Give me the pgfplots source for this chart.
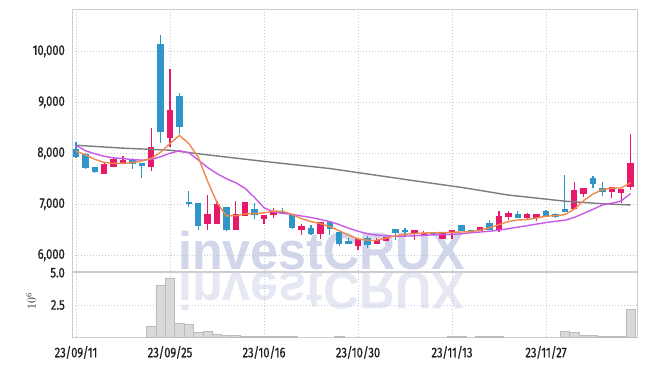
\documentclass[border=0pt]{standalone}
\usepackage{fontspec}
\setmainfont{Fira Sans}[FakeStretch=0.8, FakeBold=0.8]
\newfontfamily\wmfont{Liberation Sans}[FakeStretch=0.95]
\usepackage{pgfplots}
\pgfplotsset{compat=1.18}
\usepackage{pgfplotstable}
\definecolor{cred}{HTML}{E6196A}
\definecolor{cblue}{HTML}{3096C8}
\definecolor{corange}{HTML}{EE8A4E}
\definecolor{cpurple}{HTML}{C85AE8}
\definecolor{cgray}{HTML}{7C7C7C}
\definecolor{volfill}{HTML}{D9D9D9}
\definecolor{voledge}{HTML}{BBBBBB}
\definecolor{gridc}{HTML}{C6CADC}
\definecolor{framec}{HTML}{CCCCD2}
\definecolor{textc}{HTML}{202020}
\definecolor{wmc}{HTML}{D1D6EA}
\definecolor{wmc2}{HTML}{E5E8F3}

\pgfplotstableread{
i top bot h l
3 7784 7588 7830 7588
4 7882 7725 7930 7725
5 7863 7804 7940 7780
8 8118 7725 8490 7647
10 8843 8294 9647 8118
14 6804 6620 7176 6500
15 7000 6620 7065 6620
17 6804 6504 7065 6504
18 7039 6771 7045 6771
20 6784 6706 6784 6608
21 6850 6790 6922 6725
24 6569 6504 6621 6405
26 6653 6412 6660 6314
30 6307 6176 6307 6098
32 6294 6229 6340 6229
33 6359 6275 6359 6275
36 6490 6444 6500 6294
37 6425 6386 6477 6380
39 6425 6327 6430 6310
40 6490 6438 6500 6327
43 6543 6477 6550 6470
45 6765 6504 6863 6460
46 6817 6751 6869 6700
48 6804 6732 6830 6700
49 6804 6732 6810 6667
53 7275 6902 7437 6902
54 7307 7196 7320 7150
57 7327 7242 7340 7120
58 7294 7229 7300 7033
59 7797 7340 8386 7280
}\upcandles

\pgfplotstableread{
i top bot h l
0 8078 7922 8216 7900
1 7980 7710 8000 7700
2 7725 7630 7740 7610
6 7882 7784 7900 7700
7 7804 7745 7804 7510
9 10137 8412 10314 8196
11 9118 8510 9176 8373
12 7039 7000 7255 6941
13 7020 6569 7030 6490
16 6935 6490 6950 6470
19 6896 6784 7025 6706
22 6850 6804 6928 6800
23 6804 6543 6804 6510
25 6523 6412 6588 6400
27 6653 6523 6660 6392
28 6444 6229 6444 6176
29 6275 6229 6340 6220
31 6327 6209 6372 6150
34 6504 6438 6504 6294
35 6482 6462 6543 6373
38 6457 6392 6460 6380
41 6588 6477 6600 6470
42 6490 6457 6500 6440
44 6621 6504 6686 6500
47 6804 6739 6869 6739
50 6863 6765 6880 6765
51 6804 6751 6830 6720
52 6902 6850 7582 6840
55 7516 7392 7560 7320
56 7307 7242 7437 7160
}\downcandles

\pgfplotstableread{
i v
8 0.85
9 4.0
10 4.6
11 1.12
12 1.03
13 0.36
14 0.43
15 0.26
16 0.18
17 0.13
18 0.10
19 0.08
20 0.06
21 0.05
22 0.05
23 0.05
28 0.08
40 0.10
41 0.10
43 0.07
44 0.07
45 0.07
52 0.49
53 0.39
54 0.18
55 0.13
56 0.05
57 0.05
58 0.05
59 2.17
}\voltable

\pgfplotsset{
  common/.style={
    scale only axis, width=565bp,
    xmin=-0.43, xmax=59.68,
    xtick={0,10,20,30,40,50},
    scaled y ticks=false,
    grid=major,
    grid style={color=gridc, line width=0.8bp, dash pattern=on 1bp off 2bp},
    major tick length=0pt,
    axis line style={draw=framec, line width=0.8bp},
    tick label style={font=\fontsize{14}{14}\selectfont, text=textc},
    yticklabel style={anchor=east, inner sep=0pt, xshift=-7bp},
    xticklabel style={anchor=north, inner sep=0pt, yshift=-8.5bp},
  },
  wick/.style={draw=none, mark=none, forget plot,
    error bars/.cd, y dir=plus, y explicit, error mark=none,
    error bar style={draw=#1, line width=1.1bp}},
  body/.style={draw=none, mark=none, forget plot,
    error bars/.cd, y dir=both, y explicit, error mark=none,
    error bar style={draw=#1, line width=6.4bp}},
}

\begin{document}
\begin{tikzpicture}
% watermark
\node[anchor=base west, inner sep=0pt, text=wmc, font=\wmfont\bfseries\fontsize{53}{53}\selectfont] at (178bp,96bp) {investCRUX};
\begin{scope}[shift={(178bp,93bp)}, yscale=-1]
\node[transform shape, anchor=base west, inner sep=0pt, text=wmc2, font=\wmfont\bfseries\fontsize{53}{53}\selectfont] at (0,0) {investCRUX};
\end{scope}

\begin{axis}[common,
  at={(72bp,95bp)}, anchor=south west, height=262bp,
  ymin=5690, ymax=10830,
  xticklabels={},
  ytick={6000,7000,8000,9000,10000},
  yticklabels={{6,000},{7,000},{8,000},{9,000},{10,000}},
]
% wicks
\addplot[wick=cred] table[x=i, y=l, y error expr=\thisrow{h}-\thisrow{l}] {\upcandles};
\addplot[wick=cblue] table[x=i, y=l, y error expr=\thisrow{h}-\thisrow{l}] {\downcandles};
% bodies
\addplot[body=cred] table[x=i, y expr=(\thisrow{top}+\thisrow{bot})/2, y error expr=(\thisrow{top}-\thisrow{bot})/2+4] {\upcandles};
\addplot[body=cblue] table[x=i, y expr=(\thisrow{top}+\thisrow{bot})/2, y error expr=(\thisrow{top}-\thisrow{bot})/2+4] {\downcandles};
% moving averages
\addplot[color=cgray, line width=1.4bp, mark=none] coordinates {
(0,8157) (5,8100) (10,8060) (13,7990) (20,7840) (27,7700) (36,7460) (41,7330) (46,7180) (52,7060) (56,7010) (59,6985)};
\addplot[color=cpurple, line width=1.4bp, mark=none] coordinates {
(0,8157) (1,8050) (2,7990) (3,7940) (4,7910) (5,7895) (6,7875) (7,7865) (8,7880) (9,7930)
(10,8000) (11,8050) (12,8010) (13,7870) (14,7720) (15,7600) (16,7500) (17,7420) (18,7310) (19,7130)
(20,6930) (21,6850) (22,6820) (23,6800) (24,6770) (25,6740) (26,6700) (27,6660) (28,6600) (29,6530)
(30,6470) (31,6420) (32,6395) (33,6380) (34,6375) (35,6375) (36,6380) (37,6390) (38,6400) (39,6405)
(40,6410) (41,6420) (42,6440) (43,6455) (44,6470) (45,6490) (46,6520) (47,6550) (48,6580) (49,6610)
(50,6640) (51,6665) (52,6685) (53,6740) (54,6820) (55,6900) (56,6985) (57,7020) (58,7065) (59,7210)};
\addplot[color=corange, line width=1.4bp, mark=none] coordinates {
(0,8040) (1,7970) (2,7880) (3,7820) (4,7800) (5,7800) (6,7815) (7,7850) (8,7900) (9,8020)
(10,8190) (11,8350) (12,8190) (13,7920) (14,7450) (15,7030) (16,6770) (17,6775) (18,6810) (19,6815)
(20,6830) (21,6865) (22,6860) (23,6800) (24,6715) (25,6660) (26,6620) (27,6560) (28,6480) (29,6390)
(30,6320) (31,6294) (32,6294) (33,6335) (34,6380) (35,6410) (36,6425) (37,6435) (38,6440) (39,6444)
(40,6448) (41,6455) (42,6460) (43,6490) (44,6540) (45,6600) (46,6660) (47,6690) (48,6700) (49,6730)
(50,6765) (51,6775) (52,6795) (53,6900) (54,7070) (55,7200) (56,7285) (57,7315) (58,7320) (59,7420)};
\end{axis}

\begin{axis}[common,
  at={(72bp,28.7bp)}, anchor=south west, height=64.6bp,
  ymin=0, ymax=5,
  xticklabels={23/09/11,23/09/25,23/10/16,23/10/30,23/11/13,23/11/27},
  ytick={2.5,5}, yticklabels={2.5,5.0},
]
\addplot[ybar, bar width=9.4bp, fill=volfill, draw=voledge, line width=0.6bp] table[x=i, y=v] {\voltable};
\end{axis}
\node[rotate=90, inner sep=0pt, text=textc, font=\fontsize{12}{12}\selectfont] at (31bp,65bp) {$10^{6}$};
\pgfresetboundingbox
\path[use as bounding box] (0bp,0bp) rectangle (645bp,366bp);
\end{tikzpicture}
\end{document}
